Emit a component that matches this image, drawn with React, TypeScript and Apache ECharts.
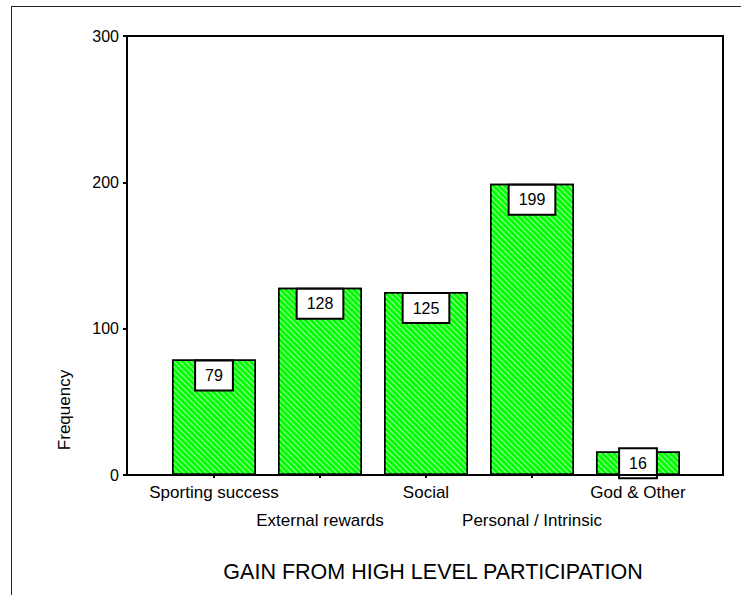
import React, { useEffect, useRef } from "react";
import * as echarts from "echarts";

const categories = [
  "Sporting success",
  "External rewards",
  "Social",
  "Personal / Intrinsic",
  "God & Other",
];
const frequencies = [79, 128, 125, 199, 16];
const yTicks = { min: 0, max: 300, interval: 100 };
const xTitle = "GAIN FROM HIGH LEVEL PARTICIPATION";
const yTitle = "Frequency";

const FONT = "'Liberation Sans', Arial, Helvetica, sans-serif";

export default function App() {
  const ref = useRef<HTMLDivElement>(null);

  useEffect(() => {
    if (!ref.current) return;
    const chart = echarts.init(ref.current, undefined, { renderer: "svg" });

    // plot frame (axis box) in pixels
    const frame = { left: 127, top: 36, width: 596, height: 439 };
    // bars occupy an inner band of the frame
    const band = { left: 161, width: 530 };

    const barData = frequencies.map((v) =>
      v < 30 ? { value: v, label: { position: "inside" as const } } : v
    );

    chart.setOption({
      animation: false,
      backgroundColor: "#fff",
      grid: [
        { left: band.left, width: band.width, top: frame.top, height: frame.height },
        { left: frame.left, width: frame.width, top: frame.top, height: frame.height },
      ],
      xAxis: [
        {
          type: "category",
          gridIndex: 0,
          data: categories,
          axisLine: { show: false },
          axisTick: {
            show: true,
            alignWithLabel: true,
            length: 3,
            lineStyle: { color: "#000", width: 2 },
          },
          axisLabel: {
            interval: 0,
            margin: 3,
            fontFamily: FONT,
            fontSize: 17,
            color: "#000",
            lineHeight: 28,
            formatter: (v: string, i: number) => (i % 2 === 1 ? "\n" + v : v),
          },
        },
        { type: "value", gridIndex: 1, show: false, min: 0, max: 1 },
      ],
      yAxis: [
        { type: "value", gridIndex: 0, show: false, ...yTicks },
        {
          type: "value",
          gridIndex: 1,
          ...yTicks,
          splitLine: { show: false },
          axisLine: { show: true, lineStyle: { color: "#000", width: 2 } },
          axisTick: { show: true, length: 4, lineStyle: { color: "#000", width: 2 } },
          axisLabel: { fontFamily: FONT, fontSize: 16, color: "#000", margin: 8 },
        },
      ],
      series: [
        {
          type: "bar",
          xAxisIndex: 0,
          yAxisIndex: 0,
          data: barData,
          barWidth: 84,
          itemStyle: {
            color: "#00ff00",
            borderColor: "#000",
            borderWidth: 1.5,
            decal: {
              symbol: "rect",
              color: "rgba(255,255,255,0.65)",
              dashArrayX: [1, 0],
              dashArrayY: [1, 3],
              rotation: Math.PI / 4,
            },
          },
          label: {
            show: true,
            position: "insideTop",
            distance: 2,
            fontFamily: FONT,
            fontSize: 16,
            color: "#000",
            backgroundColor: "#fff",
            borderColor: "#000",
            borderWidth: 2,
            padding: [5, 9],
            lineHeight: 18,
          },
        },
      ],
      graphic: [
        {
          type: "rect",
          shape: { x: frame.left, y: frame.top, width: frame.width, height: frame.height },
          style: { fill: "none", stroke: "#000", lineWidth: 2 },
          z: 10,
        },
        {
          type: "line",
          shape: { x1: 11, y1: 6.5, x2: 741, y2: 6.5 },
          style: { stroke: "#222", lineWidth: 1 },
        },
        {
          type: "line",
          shape: { x1: 11.5, y1: 6, x2: 11.5, y2: 595 },
          style: { stroke: "#222", lineWidth: 1 },
        },
        {
          type: "text",
          x: 433,
          y: 572,
          style: {
            text: xTitle,
            fontFamily: FONT,
            fontSize: 21.5,
            fill: "#000",
            align: "center",
            verticalAlign: "middle",
          },
        },
        {
          type: "text",
          x: 64,
          y: 410,
          rotation: Math.PI / 2,
          style: {
            text: yTitle,
            fontFamily: FONT,
            fontSize: 17,
            fill: "#000",
            align: "center",
            verticalAlign: "middle",
          },
        },
      ],
    });

    return () => chart.dispose();
  }, []);

  return (
    <div
      ref={ref}
      style={{ position: "fixed", left: 0, top: 0, width: 741, height: 595 }}
    />
  );
}
